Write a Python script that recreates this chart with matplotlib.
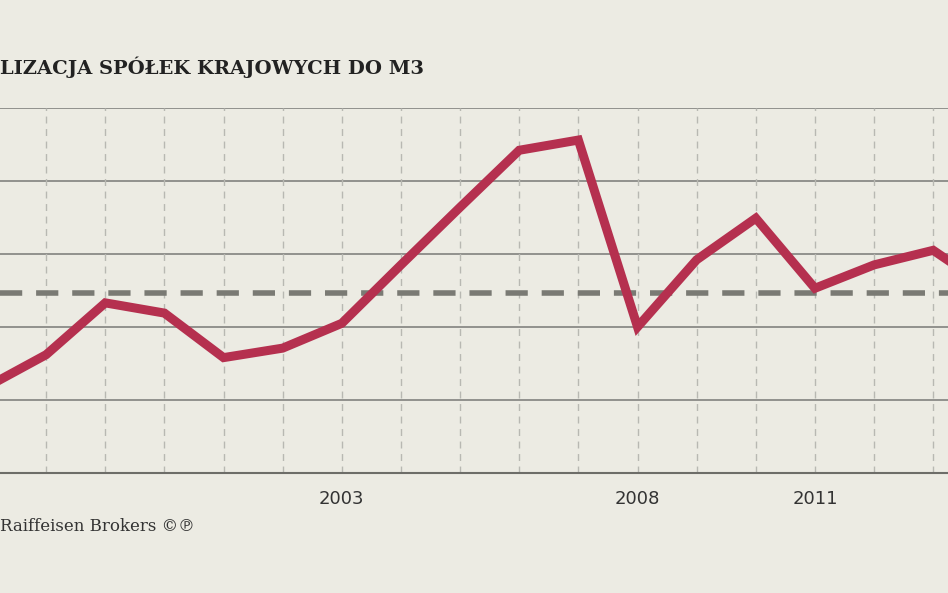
import matplotlib.pyplot as plt

years = [1997, 1998, 1999, 2000, 2001, 2002, 2003, 2004, 2005, 2006, 2007,
         2008, 2009, 2010, 2011, 2012, 2013, 2014]
values = [1.18, 1.62, 2.33, 2.19, 1.58, 1.71, 2.05, 2.85, 3.64, 4.42, 4.56,
          2.0, 2.92, 3.49, 2.53, 2.85, 3.05, 2.5]
average = 2.47
label_years = [2003, 2008, 2011]

bg = '#ecebe3'
fig = plt.figure(figsize=(9.48, 5.93), dpi=100, facecolor=bg)
ax = fig.add_axes([0, 0.2024, 1, 0.6156], facecolor=bg)

ax.set_xlim(1997.22, 2013.25)
ax.set_ylim(0, 5)
for y in range(1, 6):
    ax.axhline(y, color='#8a8a86', lw=1.3, zorder=1)
for yr in range(1998, 2014):
    ax.axvline(yr, color='#b8b8b2', lw=1, ls=(0, (5, 4)), zorder=1)
ax.axhline(average, color='#7a7a74', lw=4, ls=(0, (4, 2.5)), zorder=2)
ax.plot(years, values, color='#b5304f', lw=6.5, solid_joinstyle='miter', zorder=3)

for s in ['top', 'right', 'left']:
    ax.spines[s].set_visible(False)
ax.spines['bottom'].set_color('#6d6d68')
ax.spines['bottom'].set_linewidth(1.5)
ax.set_yticks([])
ax.set_xticks(label_years)
ax.set_xticklabels([str(y) for y in label_years], fontsize=13, color='#333333')
ax.tick_params(axis='x', length=0, pad=12)

fig.text(0.0, 0.875, 'LIZACJA SPÓŁEK KRAJOWYCH DO M3', fontsize=14,
         fontweight='bold', family=['DejaVu Serif', 'DejaVu Sans'], color='#222222')
fig.text(0.0, 0.105, 'Raiffeisen Brokers ©℗', fontsize=12,
         family=['DejaVu Serif', 'DejaVu Sans'], color='#333333')

fig.savefig('out.png', dpi=100, facecolor=bg)
